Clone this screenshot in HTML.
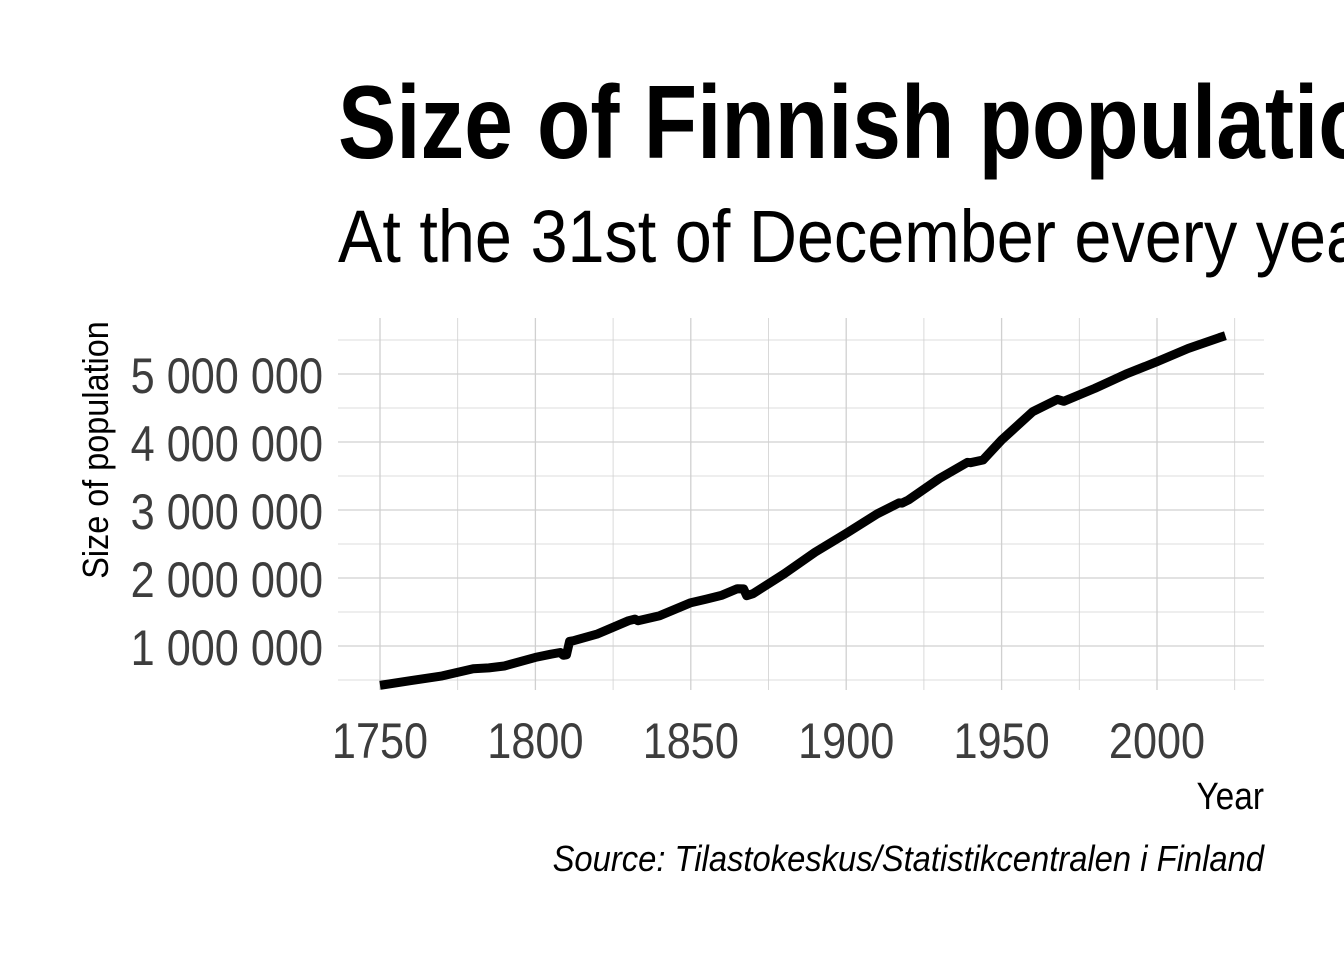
<!DOCTYPE html>
<html><head><meta charset="utf-8">
<style>
html,body{margin:0;padding:0;background:#fff;}
svg{display:block;}
text{font-family:"Liberation Sans Narrow","Liberation Sans",sans-serif;}
</style></head>
<body>
<svg id="chart" width="1344" height="960" viewBox="0 0 1344 960">
  <text transform="translate(338,158) scale(0.84,1)" font-size="104" font-weight="bold" fill="#000">Size of Finnish population</text>
  <text transform="translate(338,262) scale(0.9,1)" font-size="74" fill="#000">At the 31st of December every year</text>
  <g id="grid"></g>
  <g id="yticks"></g>
  <g id="xticks"></g>
  <path id="line" fill="none" stroke="#000" stroke-width="9" stroke-linejoin="round" stroke-linecap="butt"/>
  <text transform="translate(108,450) rotate(-90) scale(0.9,1)" text-anchor="middle" font-size="36" fill="#000">Size of population</text>
  <text transform="translate(1264,809) scale(0.88,1)" text-anchor="end" font-size="38" fill="#000">Year</text>
  <text transform="translate(1264,871) scale(0.91,1)" text-anchor="end" font-size="36" font-style="italic" fill="#000">Source: Tilastokeskus/Statistikcentralen i Finland</text>
</svg>
<script>
const years = [1750,1760,1770,1780,1785,1790,1800,1805,1808,1809,1810,1811,1812,1820,1830,1832,1833,1840,1850,1855,1860,1865,1867,1868,1870,1880,1890,1900,1910,1917,1918,1920,1930,1939,1940,1944,1950,1960,1968,1970,1980,1990,2000,2010,2020,2022];
const population = [421500,491000,561000,664000,678000,705600,832700,880000,905000,863000,870000,1069000,1075000,1177500,1372000,1395000,1372000,1445600,1636900,1690000,1746700,1843000,1840000,1739000,1769000,2060800,2380100,2655900,2943400,3105000,3102000,3147600,3462700,3700000,3695600,3735000,4029800,4446200,4626000,4598300,4787800,4998500,5181100,5375300,5533800,5563970];
const xTickLabels = [1750,1800,1850,1900,1950,2000];
const yTickValues = [1000000,2000000,3000000,4000000,5000000];

const X = y => 380 + (y - 1750) * (1157 - 380) / 250;
const Y = v => 646 - (v - 1000000) * (646 - 374) / 4000000;
const NS = "http://www.w3.org/2000/svg";
const L = 338, R = 1264, T = 318, B = 690;
const grid = document.getElementById('grid');
function ln(x1,y1,x2,y2,w,name){
  const l = document.createElementNS(NS,'line');
  l.setAttribute('x1',x1);l.setAttribute('y1',y1);l.setAttribute('x2',x2);l.setAttribute('y2',y2);
  l.setAttribute('stroke', '#d0d0d0');l.setAttribute('stroke-width',w);
  
  
  grid.appendChild(l);
}
for (let v = 500000; v <= 5500000; v += 500000) {
  ln(L, Y(v), R, Y(v), v % 1000000 === 0 ? 1.3 : 0.8, 'y-gridline');
}
for (let y = 1750; y <= 2025; y += 25) {
  ln(X(y), T, X(y), B, y % 50 === 0 ? 1.3 : 0.8, 'x-gridline');
}
const yt = document.getElementById('yticks');
yTickValues.forEach(v => {
  const t = document.createElementNS(NS,'text');
  t.setAttribute('transform', 'translate(323,' + (Y(v) + 19) + ') scale(0.865,1)');
  t.setAttribute('text-anchor','end'); t.setAttribute('font-size','50'); t.setAttribute('fill','#3d3d3d');
  t.textContent = String(v).replace(/\B(?=(\d{3})+(?!\d))/g,' ');
  
  
  yt.appendChild(t);
});
const xt = document.getElementById('xticks');
xTickLabels.forEach(y => {
  const t = document.createElementNS(NS,'text');
  t.setAttribute('transform', 'translate(' + X(y) + ',758) scale(0.865,1)');
  t.setAttribute('text-anchor','middle'); t.setAttribute('font-size','50'); t.setAttribute('fill','#3d3d3d');
  t.textContent = y;
  
  
  xt.appendChild(t);
});
document.getElementById('line').setAttribute('d', years.map((y,i) => (i ? 'L' : 'M') + X(y).toFixed(1) + ' ' + Y(population[i]).toFixed(1)).join(' '));
</script>
</body></html>
